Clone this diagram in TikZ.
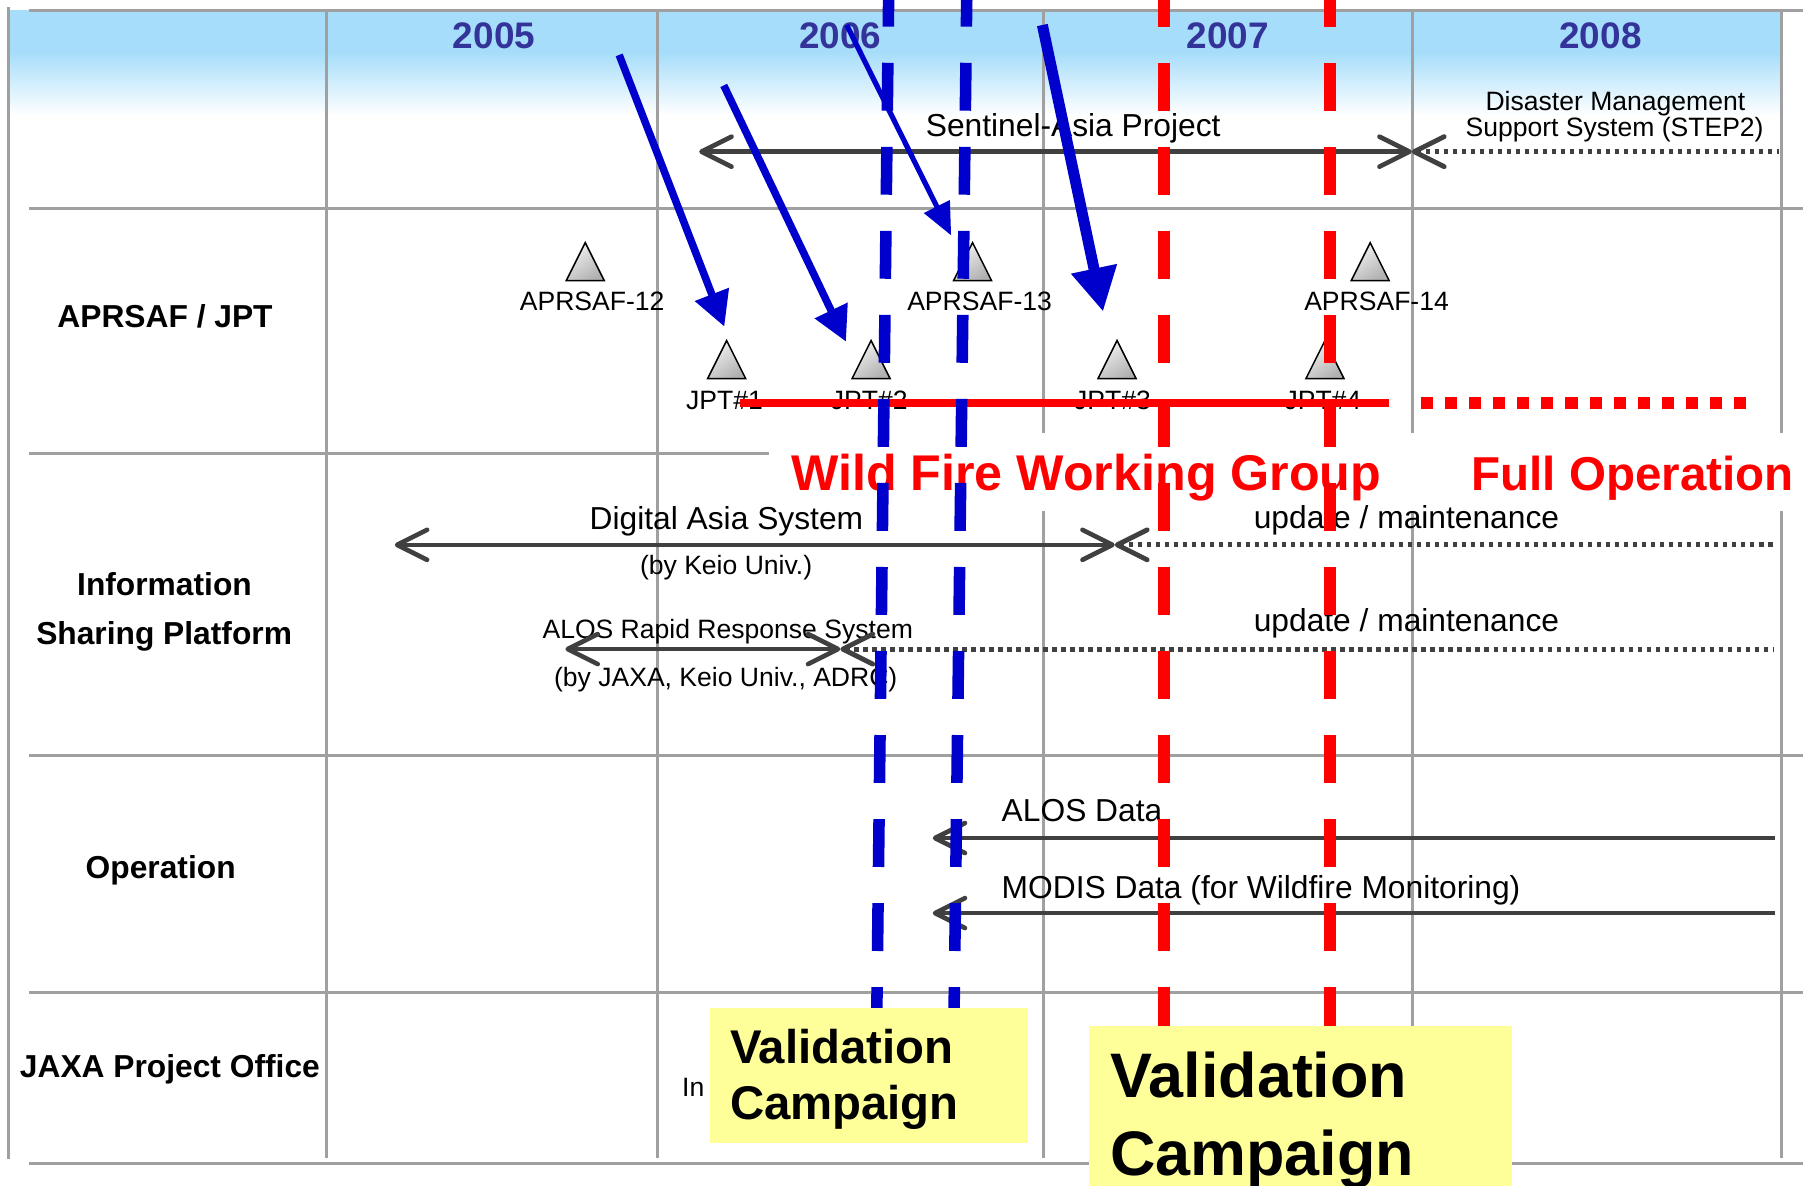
\documentclass[tikz,border=0pt]{standalone}
\usepackage{fontspec}
\setmainfont{Liberation Sans}
\usetikzlibrary{positioning, arrows.meta}

\definecolor{skyblue}{RGB}{166,221,250}
\definecolor{gridgray}{RGB}{160,160,160}
\definecolor{bargray}{RGB}{64,64,64}
\definecolor{yearblue}{RGB}{51,51,153}
\definecolor{fireblue}{RGB}{0,0,204}
\definecolor{firered}{RGB}{255,0,0}
\definecolor{campyellow}{RGB}{255,255,153}

\begin{document}
\begin{tikzpicture}[
    x=1pt, y=-1pt,
    every node/.style={inner sep=0pt, outer sep=0pt, anchor=base},
    chev/.tip={Straight Barb[length=26pt, width=26pt, round]},
    grid/.style={draw=gridgray, line width=2.6pt},
    yearlbl/.style={font=\fontsize{32}{32}\selectfont\bfseries, text=yearblue},
    rowlbl/.style={font=\fontsize{27.5}{27.5}\selectfont\bfseries},
    bigtxt/.style={font=\fontsize{27.5}{27.5}\selectfont},
    smalltxt/.style={font=\fontsize{23}{23}\selectfont},
    grouptxt/.style={font=\fontsize{43.5}{43.5}\selectfont\bfseries, text=firered},
    camptxt/.style={font=\fontsize{41}{41}\selectfont\bfseries, anchor=base west},
    bigcamptxt/.style={camptxt, font=\fontsize{54.5}{54.5}\selectfont\bfseries},
    campbox/.style={fill=campyellow, anchor=north west},
    milestone/.style={draw=black, line width=1.3pt, top color=gray!10, bottom color=gray!62, shading angle=35},
    span/.style={draw=bargray, line width=4pt},
    spandot/.style={span, line width=4.2pt, dash pattern=on 4pt off 3.8pt},
    jpt/.style={draw=firered, line width=7.5pt},
    jptdot/.style={draw=firered, line width=10pt, dash pattern=on 10.5pt off 10.4pt},
    hint/.style={draw=fireblue, line width=6.5pt, -{Triangle[length=30pt, width=30pt]}},
    campline/.style={line width=10pt, dash pattern=on 41.5pt off 31.3pt},
]
\useasboundingbox (0,0) rectangle (1568,1027);

% --- header band ---
\fill[skyblue] (7.5,8.7) rectangle (1543,45);
\shade[top color=skyblue, bottom color=white] (7.5,45) rectangle (1543,100);

% --- grid ---
\foreach \gy in {8.7,180.5,393,654.7,860,1007.6}
  \draw[grid] (25,\gy) -- (1562,\gy);
\draw[grid] (7.5,6.4) -- (7.5,1004);
\foreach \gx in {282.5,569.5,904.4,1224,1543}
  \draw[grid] (\gx,8.7) -- (\gx,1003);
\node[fill=white, minimum width=902pt, minimum height=68pt, anchor=north west] (wfbox) at (666,375) {};

% --- years ---
\node[yearlbl] (y2005) at (428,42)    {2005};
\node[yearlbl] (y2006) at (728,42)    {2006};
\node[yearlbl] (y2007) at (1063.8,42) {2007};
\node[yearlbl] (y2008) at (1386.5,42) {2008};

% --- rows ---
\node[rowlbl] (rApr)   at (143,284)    {APRSAF / JPT};
\node[rowlbl] (rInfo)  at (142.5,516)  {Information};
\node[rowlbl] (rShare) at (142.2,558)  {Sharing Platform};
\node[rowlbl] (rOper)  at (139.2,761)  {Operation};
\node[rowlbl] (rJaxa)  at (147.2,933.3) {JAXA Project Office};

% --- APRSAF / JPT milestones ---
\foreach \tx/\ty in {507/210.2, 842.5/210.2, 1187/210.2, 629.5/295, 754.6/295, 967.7/295, 1147.8/295}
  \draw[milestone] (\tx,\ty) -- ++(16.5,33) -- ++(-33,0) -- cycle;
\node[smalltxt] (apr12) at (513,268.6)    {APRSAF-12};
\node[smalltxt] (apr13) at (848.6,268.6)  {APRSAF-13};
\node[smalltxt] (apr14) at (1192.5,268.6) {APRSAF-14};
\node[smalltxt] (jpt1)  at (627.7,355)    {JPT\#1};
\node[smalltxt] (jpt2)  at (753,355)      {JPT\#2};
\node[smalltxt] (jpt3)  at (963.7,355)    {JPT\#3};
\node[smalltxt] (jpt4)  at (1146,355)     {JPT\#4};

% --- Sentinel-Asia ---
\node[bigtxt]   (sent)  at (929.7,118.4) {Sentinel-Asia Project};
\node[smalltxt] (step1) at (1399.4,96)   {Disaster Management};
\node[smalltxt] (step2) at (1398.7,118.4) {Support System (STEP2)};
\coordinate (sentL) at (605.7,131.4);
\coordinate (sentX) at (1223,131.4);
\coordinate (sentR) at (1541,131.4);
\draw[span, chev-chev] (sentL) -- (sentX);
\draw[spandot, chev-] (sentX) -- (sentR);

% --- information sharing ---
\node[bigtxt]   (das)    at (629.3,458.6)  {Digital Asia System};
\node[smalltxt] (dasby)  at (629,498)      {(by Keio Univ.)};
\node[bigtxt]   (upd1)   at (1218.4,457.7) {update / maintenance};
\node[smalltxt, anchor=base west] (rrs)   at (470,553) {ALOS Rapid Response System};
\node[smalltxt, anchor=base west] (rrsby) at (480,595) {(by JAXA, Keio Univ., ADRC)};
\node[bigtxt]   (upd2)   at (1218.4,547.2) {update / maintenance};
\coordinate (dasL) at (342,472);
\coordinate (dasX) at (965.7,472);
\coordinate (dasR) at (1536.4,472);
\draw[span, chev-chev] (dasL) -- (dasX);
\draw[spandot, chev-] (dasX) -- (dasR);
\coordinate (rrsL) at (489.8,562.3);
\coordinate (rrsX) at (728,562.3);
\coordinate (rrsR) at (1536.4,562.3);
\draw[span, chev-chev] (rrsL) -- (rrsX);
\draw[spandot, chev-] (rrsX) -- (rrsR);

% --- operation ---
\node[bigtxt, anchor=base west] (alos)  at (867.8,711.8) {ALOS Data};
\node[bigtxt, anchor=base west] (modis) at (867.8,778.3) {MODIS Data (for Wildfire Monitoring)};
\coordinate (alosR)  at (1537.8,726);
\coordinate (alosL)  at (808,726);
\coordinate (modisR) at (1537.8,791);
\coordinate (modisL) at (808,791);
\draw[span, -chev] (alosR) -- (alosL);
\draw[span, -chev] (modisR) -- (modisL);

% --- working group line ---
\coordinate (wgL) at (641,349);
\coordinate (wgM) at (1203.6,349);
\coordinate (opL) at (1230.7,349);
\coordinate (opR) at (1513,349);
\draw[jpt] (wgL) -- (wgM);
\draw[jptdot] (opL) -- (opR);
\node[grouptxt] (wfwg) at (941,424.5) {Wild Fire Working Group};
\node[grouptxt, font=\fontsize{41.2}{41.2}\selectfont\bfseries] (fullop) at (1414.5,424.5) {Full Operation};

% --- blue hints ---
\coordinate (h1s) at (536.4,47.6);  \coordinate (h1e) at (627.5,283);
\coordinate (h2s) at (627,74);      \coordinate (h2e) at (732.9,296);
\coordinate (h3s) at (733.5,21.7);  \coordinate (h3e) at (824,204);
\coordinate (h4s) at (903,21.7);    \coordinate (h4e) at (955.6,270);
\draw[hint] (h1s) -- (h1e);
\draw[hint] (h2s) -- (h2e);
\draw[hint, line width=4.5pt, -{Triangle[length=28pt, width=24pt]}] (h3s) -- (h3e);
\draw[hint, line width=9.5pt, -{Triangle[length=38pt, width=38pt]}] (h4s) -- (h4e);

% --- campaign markers ---
\foreach \xt/\xb/\cc in {770/759.3/fireblue, 837.7/826.2/fireblue, 1008.5/1008.5/firered, 1152/1152/firered}
  \draw[campline, draw=\cc] (\xt,-18.4) -- (\xb,900);

% --- validation campaigns ---
\node[smalltxt, anchor=base west] (inlbl) at (591,950) {In};
\node[campbox, minimum width=275.6pt, minimum height=116.5pt] (camp1) at (615,873.5) {};
\node[camptxt] (camp1a) at (632.4,921) {Validation};
\node[camptxt] (camp1b) at (632.4,970) {Campaign};
\node[campbox, minimum width=367pt, minimum height=160pt] (camp2) at (943,888.6) {};
\node[bigcamptxt] (camp2a) at (961.7,951)  {Validation};
\node[bigcamptxt] (camp2b) at (961.7,1018) {Campaign};
\end{tikzpicture}
\end{document}
